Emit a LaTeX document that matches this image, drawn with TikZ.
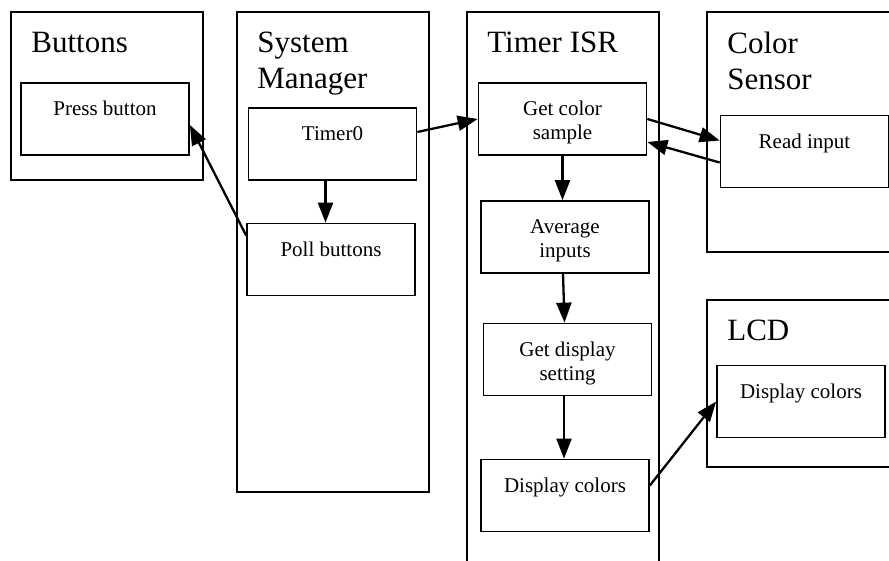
\documentclass[tikz,border=0pt]{standalone}
\usepackage{fontspec}
\setmainfont{Liberation Serif}
\usetikzlibrary{arrows.meta}
\newcommand{\laneWidth}{192pt}
\newcommand{\taskWidth}{168pt}

\begin{document}
\begin{tikzpicture}[
        x=1pt, y=-1pt,
        lane/.style={draw, line width=1.7pt, minimum width=\laneWidth},
        task/.style={draw, line width=1.7pt, minimum width=\taskWidth, minimum height=72pt},
        lanetitle/.style={anchor=north west, inner sep=0pt, xshift=21pt, yshift=-21pt, align=left, font=\fontsize{31}{36}\selectfont},
        tasktext/.style={anchor=north, inner sep=0pt, yshift=-19pt, align=center, font=\fontsize{21}{24}\selectfont},
        flow/.style={-{Triangle[length=20pt, width=15pt]}, line width=2.3pt}
    ]
    \useasboundingbox (0,0) rectangle (889,561);
    \clip (0,0) rectangle (889,561);

    % lanes
    \node[lane, minimum height=168pt, label={[lanetitle]north west:Buttons}] (buttons) at (107,96) {};
    \node[lane, minimum height=480pt, label={[lanetitle]north west:System\\Manager}] (manager) at (333,252) {};
    \node[lane, minimum height=588pt, label={[lanetitle]north west:Timer ISR}] (isr) at (563,306) {};
    \node[lane, minimum height=240pt, label={[lanetitle]north west:Color\\Sensor}] (sensor) at (803,132) {};
    \node[lane, minimum height=167pt, label={[lanetitle]north west:LCD}] (lcd) at (803,383.5) {};

    % tasks
    \node[task, label={[tasktext]north:Press button}] (press) at (105,119) {};
    \node[task, label={[tasktext]north:Timer0}] (timer) at (332.5,144) {};
    \node[task, label={[tasktext]north:Poll buttons}] (poll) at (331,259.5) {};
    \node[task, label={[tasktext]north:Get color\\sample}] (sample) at (562.5,119) {};
    \node[task, label={[tasktext]north:Average\\inputs}] (average) at (565,237) {};
    \node[task, label={[tasktext]north:Get display\\setting}] (setting) at (567.5,359.5) {};
    \node[task, label={[tasktext]north:Display colors}] (show) at (565,495.5) {};
    \node[task, label={[tasktext]north:Read input}] (read) at (804.5,151.5) {};
    \node[task, label={[tasktext]north:Display colors}] (lcdshow) at (801,401.5) {};

    % flows
    \draw[flow] ([xshift=-7pt]timer.south) -- ([xshift=-7pt]timer.south |- poll.north);
    \draw[flow] ([yshift=24pt]poll.west) -- ([yshift=-6pt]press.east);
    \draw[flow] ([yshift=12pt]timer.east) -- (sample.west);
    \draw[flow] (sample.south) -- (sample.south |- average.north);
    \draw[flow] ([xshift=-2pt]average.south) -- ([xshift=-3pt]setting.north);
    \draw[flow] ([xshift=-3.5pt]setting.south) -- ([xshift=-3.5pt]setting.south |- show.north);
    \draw[flow] (sample.east) -- ([yshift=11pt]read.west);
    \draw[flow] ([yshift=-11pt]read.west) -- ([yshift=-23pt]sample.east);
    \draw[flow] ([yshift=10pt]show.east) -- (lcdshow.west);
\end{tikzpicture}
\end{document}
